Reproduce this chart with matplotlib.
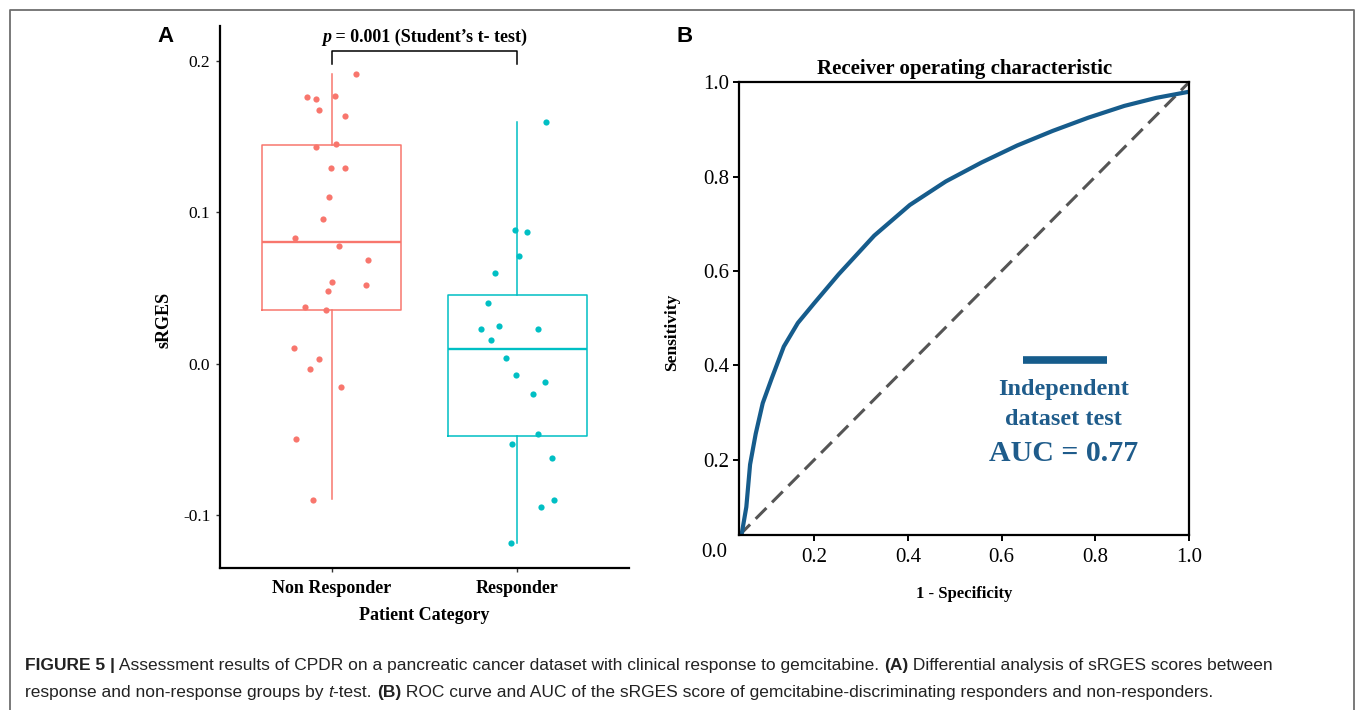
import numpy as np
import matplotlib
matplotlib.use("Agg")
import matplotlib.pyplot as plt
from matplotlib import font_manager
from matplotlib.lines import Line2D

W, H = 1355, 710

# ---------------- panel A : sRGES by patient category ----------------
categories = ["Non Responder", "Responder"]
box_colors = ["#F8766D", "#00BFC4"]

nr_values = [0.1914, 0.1762, 0.1751, 0.1767, 0.1674, 0.1639, 0.1430, 0.1450,
             0.1296, 0.1296, 0.1102, 0.0957, 0.0829, 0.0781, 0.0686, 0.0541,
             0.0523, 0.0482, 0.0374, 0.0354, 0.0108, 0.0029, -0.0035, -0.0150,
             -0.0495, -0.0898]
nr_jitter = [0.133, -0.133, -0.081, 0.021, -0.067, 0.070, -0.081, 0.025,
             -0.001, 0.070, -0.013, -0.044, -0.196, 0.039, 0.197, 0.003,
             0.187, -0.020, -0.141, -0.031, -0.200, -0.068, -0.114, 0.053,
             -0.189, -0.099]

r_values = [0.1597, 0.0882, 0.0869, 0.0711, 0.0603, 0.0403, 0.0233, 0.0248,
            0.0233, 0.0156, 0.0040, -0.0075, -0.0117, -0.0196, -0.0460,
            -0.0532, -0.0623, -0.0946, -0.0900, -0.1183]
r_jitter = [0.153, -0.012, 0.049, 0.007, -0.120, -0.158, -0.198, -0.099,
            0.112, -0.140, -0.063, -0.009, 0.146, 0.082, 0.112, -0.032,
            0.187, 0.129, 0.199, -0.036]

# whisker low, Q1, median, Q3, whisker high
nr_box = [-0.0893, 0.0356, 0.0807, 0.1446, 0.1914]
r_box = [-0.1183, -0.0475, 0.0097, 0.0453, 0.1595]

yticks_a = [-0.1, 0.0, 0.1, 0.2]
p_value = "0.001"
bracket_y = 0.2068

# ---------------- panel B : ROC curve ----------------
roc_fpr = [0.045, 0.055, 0.063, 0.075, 0.090, 0.109, 0.135, 0.165, 0.200,
           0.252, 0.328, 0.404, 0.481, 0.557, 0.633, 0.709, 0.785, 0.862,
           0.930, 1.0]
roc_tpr = [0.042, 0.100, 0.190, 0.255, 0.320, 0.372, 0.440, 0.490, 0.532,
           0.593, 0.675, 0.740, 0.790, 0.830, 0.866, 0.897, 0.925, 0.950,
           0.967, 0.980]
auc = 0.77
ticks_b = [0.2, 0.4, 0.6, 0.8, 1.0]

serif = "Liberation Serif"
names = {f.name for f in font_manager.fontManager.ttflist}
cap_font = "Liberation Sans Narrow" if "Liberation Sans Narrow" in names else "Liberation Sans"

plt.rcParams["font.family"] = serif

fig = plt.figure(figsize=(W / 100, H / 100), dpi=100)
renderer = fig.canvas.get_renderer()


def text_runs(x, y, runs, ha="left", **kw):
    # draw pieces of text with different styles one after another on a baseline
    def adv(s, props):
        t = fig.text(0, 0, "x" + s + "x", **props, **kw)
        w1 = t.get_window_extent(renderer).width
        t.remove()
        t = fig.text(0, 0, "xx", **props, **kw)
        w2 = t.get_window_extent(renderer).width
        t.remove()
        return w1 - w2
    widths = [adv(s, p) for s, p in runs]
    x0 = x * W - (sum(widths) / 2 if ha == "center" else 0)
    for (s, p), w in zip(runs, widths):
        fig.text(x0 / W, y, s, ha="left", va="baseline", **p, **kw)
        x0 += w


# ---- panel A
axA = fig.add_axes([220 / W, 1 - 567.7 / H, 409 / W, 541.7 / H])
stats = []
for lab, b in zip(categories, [nr_box, r_box]):
    stats.append(dict(label=lab, whislo=b[0], q1=b[1], med=b[2], q3=b[3],
                      whishi=b[4], fliers=[]))
bp = axA.bxp(stats, positions=[1, 2], widths=0.75, showcaps=False,
             showfliers=False)
for i, c in enumerate(box_colors):
    bp["boxes"][i].set(color=c, linewidth=1.1)
    bp["medians"][i].set(color=c, linewidth=1.7)
    for wh in bp["whiskers"][2 * i:2 * i + 2]:
        wh.set(color=c, linewidth=1.1)

axA.scatter(1 + np.array(nr_jitter), nr_values, s=20, color=box_colors[0],
            linewidths=0, zorder=3)
axA.scatter(2 + np.array(r_jitter), r_values, s=20, color=box_colors[1],
            linewidths=0, zorder=3)

tip = 0.009
axA.plot([1, 1, 2, 2], [bracket_y - tip, bracket_y, bracket_y, bracket_y - tip],
         color="black", linewidth=1.1)

axA.set_xlim(0.4, 2.6)
axA.set_ylim(-0.1346, 0.2231)
axA.set_xticks([1, 2])
axA.set_xticklabels(categories, fontsize=13, fontweight="bold")
axA.set_yticks(yticks_a)
axA.set_yticklabels([f"{v:.1f}" for v in yticks_a], fontsize=12.5)
axA.tick_params(direction="out", length=3, width=1, pad=4, color="#333333")
axA.tick_params(axis="x", pad=6)
for s in ["top", "right"]:
    axA.spines[s].set_visible(False)
for s in ["left", "bottom"]:
    axA.spines[s].set_linewidth(1.6)
axA.set_xlabel("Patient Category", fontsize=13, fontweight="bold", labelpad=7)
axA.set_ylabel("sRGES", fontsize=13, fontweight="bold")
axA.yaxis.set_label_coords(-0.117, 0.457)

text_runs(424.5 / W, 1 - 41.7 / H,
          [("p", dict(fontweight="bold", fontstyle="italic")),
           (" = " + p_value + " (Student\u2019s t- test)", dict(fontweight="bold"))],
          ha="center", fontsize=13)

# ---- panel B
axB = fig.add_axes([739.3 / W, 1 - 535.3 / H, 449.7 / W, 453 / H])
axB.axline((0, 0), (1, 1), color="#555555", linewidth=2.2, dashes=(5, 2.6))
axB.plot(roc_fpr, roc_tpr, color="#165c8c", linewidth=3,
         solid_joinstyle="round")
axB.set_xlim(0.04, 1.0)
axB.set_ylim(0.04, 1.0)
axB.set_xticks(ticks_b)
axB.set_yticks(ticks_b)
axB.set_xticklabels([f"{v:.1f}" for v in ticks_b], fontsize=15)
axB.set_yticklabels([f"{v:.1f}" for v in ticks_b], fontsize=15)
axB.tick_params(direction="out", length=4, width=1.4, pad=3)
axB.tick_params(axis="x", pad=5)
axB.annotate("0.0", xy=(0, 0), xycoords="data", xytext=(5, 1),
             textcoords="offset points", ha="right", va="center",
             fontsize=15, annotation_clip=False)
for s in axB.spines.values():
    s.set_linewidth(1.6)
axB.set_title("Receiver operating characteristic", fontsize=15,
              fontweight="bold", pad=6)
axB.set_xlabel("1 - Specificity", fontsize=12, fontweight="bold", labelpad=14)
axB.set_ylabel("Sensitivity", fontsize=12.5, fontweight="bold")
axB.yaxis.set_label_coords(-0.132, 0.447)

# legend drawn as in the figure: thick bar above the label
axB.plot([0.646, 0.826], [0.412, 0.412], color="#165c8c", linewidth=5.5,
         solid_capstyle="butt")
axB.text(0.732, 0.350, "Independent", ha="center", va="center",
         fontsize=17.5, fontweight="bold", color="#1f5c8b")
axB.text(0.732, 0.286, "dataset test", ha="center", va="center",
         fontsize=17.5, fontweight="bold", color="#1f5c8b")
axB.text(0.732, 0.213, f"AUC = {auc}", ha="center", va="center",
         fontsize=21.5, fontweight="bold", color="#1f5c8b")

# panel letters
fig.text(157 / W, 1 - 36 / H, "A", fontsize=16, fontweight="bold",
         family="Liberation Sans", va="center")
fig.text(676 / W, 1 - 36 / H, "B", fontsize=16, fontweight="bold",
         family="Liberation Sans", va="center")

# caption
reg = dict()
bold = dict(fontweight="bold")
ital = dict(fontstyle="italic")
cap_size = 12.5
text_runs(25 / W, 1 - 670 / H,
          [("FIGURE 5 |", bold),
           (" Assessment results of CPDR on a pancreatic cancer dataset with clinical response to gemcitabine. ", reg),
           ("(A)", bold),
           (" Differential analysis of sRGES scores between", reg)],
          fontsize=cap_size, family=cap_font, color="#222222")
text_runs(25 / W, 1 - 697 / H,
          [("response and non-response groups by ", reg),
           ("t", ital),
           ("-test. ", reg),
           ("(B)", bold),
           (" ROC curve and AUC of the sRGES score of gemcitabine-discriminating responders and non-responders.", reg)],
          fontsize=cap_size, family=cap_font, color="#222222")

# outer frame (open at the bottom)
fx = [9.5 / W, 9.5 / W, 1353.5 / W, 1353.5 / W]
fy = [0, 1 - 9.5 / H, 1 - 9.5 / H, 0]
fig.add_artist(Line2D(fx, fy, transform=fig.transFigure, color="#6e6e6e",
                      linewidth=1.3))

fig.savefig("out.png", dpi=100)
